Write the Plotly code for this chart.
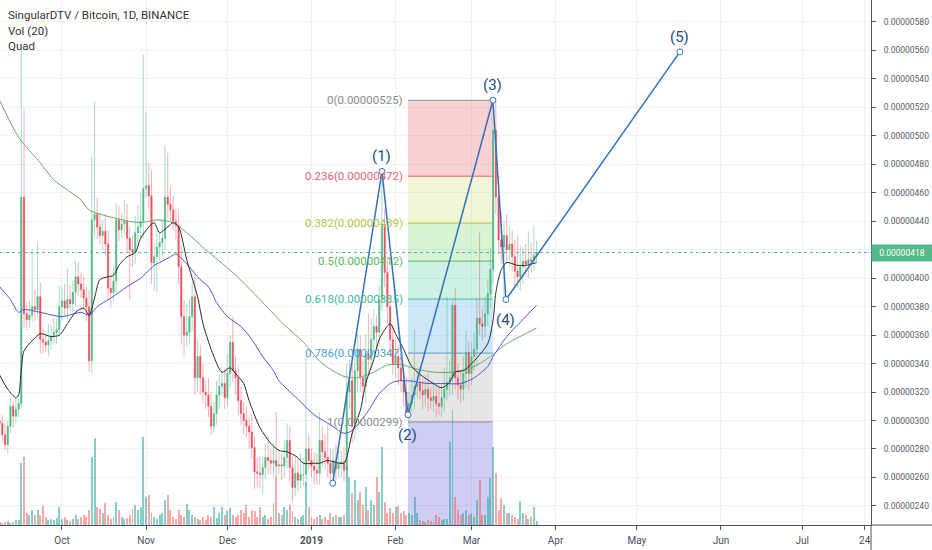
import pandas as pd
import plotly.graph_objects as go

# ---------------- data (prices in satoshi = 1e-8 BTC) ----------------
START = "2018-09-08"
SCALE = 1e-8
first_open = 300

close = [
    298, 290, 283, 296, 310, 303, 308, 312, 457, 375,
    371, 374, 380, 378, 387, 357, 355, 353, 356, 359,
    362, 364, 380, 384, 379, 385, 382, 390, 401, 396,
    392, 386, 380, 342, 441, 445, 436, 430, 433, 424,
    393, 390, 398, 441, 434, 438, 440, 428, 420, 418,
    432, 436, 440, 463, 465, 458, 411, 415, 422, 425,
    428, 457, 452, 448, 440, 437, 408, 373, 360, 362,
    373, 387, 330, 345, 330, 320, 318, 310, 296, 305,
    318, 324, 326, 316, 333, 355, 335, 330, 314, 305,
    300, 296, 292, 281, 264, 263, 262, 267, 274, 272,
    270, 272, 268, 269, 268, 274, 286, 267, 253, 263,
    258, 262, 262, 280, 272, 268, 265, 263, 286, 278,
    274, 270, 263, 272, 266, 270, 271, 265, 320, 328,
    296, 335, 350, 330, 324, 347, 343, 357, 366, 362,
    385, 437, 404, 380, 357, 340, 345, 337, 328, 320,
    306, 312, 318, 324, 326, 321, 318, 322, 316, 314,
    317, 312, 310, 316, 322, 327, 330, 381, 330, 325,
    322, 333, 348, 333, 345, 350, 372, 368, 366, 375,
    389, 406, 504, 457, 427, 422, 430, 420, 424, 415,
    405, 401, 408, 412, 410, 413, 412, 416, 418,
]
upper_wick = [
    5, 6, 8, 4, 6, 5, 8, 6, 103, 62,
    8, 10, 40, 12, 38, 10, 8, 6, 12, 8,
    10, 8, 15, 10, 12, 22, 10, 8, 12, 10,
    8, 10, 8, 12, 45, 79, 12, 10, 8, 12,
    10, 8, 10, 12, 10, 8, 15, 12, 8, 10,
    12, 15, 20, 94, 52, 16, 18, 10, 12, 8,
    12, 36, 31, 12, 10, 8, 10, 15, 12, 20,
    12, 10, 15, 12, 8, 10, 8, 12, 10, 8,
    10, 8, 12, 10, 14, 5, 18, 10, 8, 10,
    8, 10, 6, 12, 8, 10, 12, 8, 10, 15,
    8, 12, 34, 10, 8, 12, 12, 10, 8, 12,
    10, 15, 12, 65, 10, 8, 10, 12, 20, 10,
    12, 23, 10, 8, 12, 10, 8, 10, 20, 15,
    12, 10, 11, 10, 12, 14, 28, 15, 12, 8,
    10, 38, 12, 10, 8, 10, 12, 8, 10, 8,
    10, 8, 12, 40, 10, 12, 8, 10, 12, 8,
    10, 8, 12, 10, 15, 60, 12, 4, 12, 10,
    10, 12, 15, 8, 10, 12, 14, 60, 10, 12,
    10, 15, 21, 20, 15, 20, 10, 15, 12, 10,
    12, 25, 15, 10, 12, 20, 12, 21, 8,
]
lower_wick = [
    6, 5, 4, 6, 5, 8, 5, 6, 4, 10,
    8, 6, 5, 8, 6, 10, 8, 5, 8, 6,
    6, 8, 5, 10, 6, 8, 5, 6, 10, 8,
    6, 8, 10, 8, 9, 12, 8, 6, 10, 8,
    8, 10, 6, 8, 8, 6, 8, 10, 35, 10,
    8, 10, 8, 12, 6, 10, 15, 20, 25, 10,
    10, 8, 10, 8, 6, 10, 12, 20, 15, 8,
    8, 10, 12, 10, 12, 8, 10, 8, 6, 5,
    8, 10, 6, 8, 6, 10, 8, 12, 10, 8,
    10, 8, 12, 8, 12, 10, 10, 14, 8, 10,
    8, 10, 8, 6, 10, 8, 8, 10, 10, 6,
    8, 6, 8, 10, 6, 8, 10, 8, 8, 10,
    8, 10, 7, 10, 8, 6, 10, 8, 8, 12,
    12, 10, 15, 10, 8, 12, 10, 8, 10, 12,
    10, 8, 10, 12, 10, 8, 10, 12, 8, 10,
    4, 8, 6, 10, 8, 6, 10, 8, 10, 6,
    8, 10, 6, 8, 10, 8, 10, 12, 8, 10,
    10, 8, 10, 12, 8, 10, 12, 8, 10, 8,
    8, 10, 10, 12, 10, 12, 37, 10, 12, 10,
    10, 8, 10, 12, 8, 10, 8, 6, 5,
]
volume = [
    3, 2, 3, 4, 2, 3, 5, 5, 62, 68,
    12, 10, 15, 10, 15, 10, 19, 8, 5, 6,
    5, 7, 18, 6, 8, 5, 4, 6, 10, 6,
    8, 10, 8, 15, 68, 87, 18, 16, 12, 22,
    10, 6, 8, 23, 15, 8, 6, 7, 10, 16,
    20, 15, 18, 88, 28, 30, 12, 8, 6, 10,
    12, 25, 30, 15, 8, 6, 15, 10, 8, 21,
    15, 10, 8, 6, 5, 8, 5, 10, 8, 18,
    7, 12, 18, 10, 14, 17, 10, 8, 10, 15,
    12, 20, 8, 15, 14, 8, 18, 8, 10, 6,
    8, 22, 48, 12, 10, 18, 15, 20, 14, 8,
    6, 8, 10, 43, 18, 8, 6, 8, 10, 6,
    8, 5, 12, 8, 10, 8, 8, 10, 58, 48,
    32, 45, 25, 33, 20, 38, 15, 25, 20, 48,
    33, 78, 23, 12, 17, 12, 18, 19, 12, 14,
    10, 12, 10, 28, 12, 5, 4, 3, 5, 4,
    3, 10, 8, 5, 6, 6, 83, 115, 28, 15,
    10, 12, 15, 10, 12, 8, 25, 45, 10, 10,
    28, 47, 78, 52, 15, 27, 20, 12, 12, 10,
    8, 6, 24, 12, 10, 6, 8, 18, 4,
]

# moving averages (day offset from START, value)
black_ma_day = [0, 3, 6, 7, 8, 9, 12, 15, 19, 22, 25, 28, 31, 33, 35, 37, 40, 42, 44, 47, 50,
                52, 55, 57, 59, 62, 64, 66, 69, 73, 75, 79, 82, 85, 87, 90, 92, 96, 100, 103,
                106, 110, 112, 116, 118, 121, 123, 127, 128, 130, 133, 135, 138, 140, 144, 146,
                149, 152, 156, 160, 163, 166, 168, 171, 173, 176, 180, 182, 183, 185, 187, 191,
                194, 198]
black_ma_val = [332, 322, 316, 318, 336, 349, 356, 361, 359, 360, 368, 376, 379, 374, 386, 399,
                401, 402, 409, 415, 418, 428, 436, 439, 432, 436, 439, 436, 413, 387, 368, 345,
                334, 337, 333, 326, 314, 295, 284, 279, 278, 274, 270, 270, 270, 272, 271, 270,
                274, 291, 307, 326, 343, 357, 368, 361, 350, 338, 331, 326, 323, 327, 334, 335,
                338, 344, 354, 371, 390, 406, 411, 409, 409, 411]
blue_ma_day = [0, 4, 7, 9, 15, 23, 30, 33, 36, 41, 47, 52, 57, 59, 63, 65, 69, 74, 77, 80, 84,
               89, 93, 97, 101, 103, 110, 116, 122, 127, 130, 136, 140, 145, 150, 158, 164, 170,
               175, 180, 182, 187, 192, 198]
blue_ma_val = [394, 385, 376, 378, 376, 373, 376, 374, 380, 386, 394, 400, 409, 411, 415, 417,
               410, 399, 394, 383, 373, 366, 357, 345, 335, 328, 315, 304, 297, 291, 293, 307,
               319, 327, 328, 326, 326, 326, 330, 338, 345, 359, 369, 381]
green_ma_day = [0, 7, 15, 20, 25, 30, 33, 43, 52, 58, 64, 69, 76, 86, 96, 104, 112, 119, 127,
                132, 138, 143, 149, 152, 160, 167, 175, 181, 187, 194, 198]
green_ma_val = [525, 499, 481, 469, 462, 455, 448, 442, 439, 441, 439, 432, 420, 404, 385, 369,
                355, 340, 331, 330, 334, 339, 339, 337, 334, 334, 338, 345, 354, 361, 365]

# Elliott wave points
wave_time = ["2019-01-08 20:00", "2019-01-27 00:00", "2019-02-05 14:00",
             "2019-03-08 22:00", "2019-03-13 17:00", "2019-05-16 21:00"]
wave_price = [256, 475, 304, 525, 385, 559]
wave_label = ["", "(1)", "(2)", "(3)", "(4)", "(5)"]
wave_label_above = [True, True, False, True, False, True]

# Fibonacci retracement
fib_time = ["2019-02-05 14:00", "2019-03-08 22:00"]
fib_low, fib_high = 299, 525
fib_levels = [0, 0.236, 0.382, 0.5, 0.618, 0.786, 1, 1.618]
fib_line_colors = ["#8c8c8c", "#e5626b", "#b3c43c", "#5cb85c", "#3fba9c", "#4aa0d4", "#8c8c8c"]
fib_fill_colors = ["rgba(236,110,120,0.32)", "rgba(214,226,120,0.30)", "rgba(120,214,110,0.30)",
                   "rgba(90,210,160,0.30)", "rgba(100,180,235,0.32)", "rgba(160,160,160,0.26)",
                   "rgba(120,120,225,0.36)"]

last_price = 418

x_tick_time = ["2018-10-01", "2018-11-01", "2018-12-01", "2019-01-01", "2019-02-01",
               "2019-03-01", "2019-04-01", "2019-05-01", "2019-06-01", "2019-07-01", "2019-07-24"]
x_tick_text = ["Oct", "Nov", "Dec", "<b>2019</b>", "Feb", "Mar", "Apr", "May", "Jun", "Jul", "24"]
y_tick_vals = list(range(240, 600, 20))

# ---------------- derived ----------------
start = pd.Timestamp(START)
dates = [start + pd.Timedelta(days=i) for i in range(len(close))]
opens = [first_open] + close[:-1]
highs = [max(o, c) + u for o, c, u in zip(opens, close, upper_wick)]
lows = [min(o, c) - d for o, c, d in zip(opens, close, lower_wick)]
s = lambda arr: [v * SCALE for v in arr]

UP, DN = "#53b987", "#eb4d5c"
UP_W, DN_W = "rgba(83,185,135,0.5)", "rgba(235,77,92,0.45)"

fig = go.Figure()

vol_colors = ["rgba(38,166,154,0.55)" if c >= o else "rgba(239,83,80,0.5)"
              for o, c in zip(opens, close)]
fig.add_trace(go.Bar(x=dates, y=volume, yaxis="y2", marker_color=vol_colors,
                     marker_line_width=0, width=0.72 * 86400000, hoverinfo="skip",
                     showlegend=False))

fig.add_trace(go.Candlestick(
    x=dates, open=s(opens), high=s(highs), low=s(lows), close=s(close),
    increasing=dict(line=dict(color=UP_W, width=1), fillcolor=UP_W),
    decreasing=dict(line=dict(color=DN_W, width=1), fillcolor=DN_W),
    hoverinfo="skip", showlegend=False))
fig.add_trace(go.Candlestick(
    x=dates, open=s(opens), close=s(close),
    high=s([max(o, c) for o, c in zip(opens, close)]),
    low=s([min(o, c) for o, c in zip(opens, close)]),
    increasing=dict(line=dict(color=UP, width=0), fillcolor=UP),
    decreasing=dict(line=dict(color=DN, width=0), fillcolor=DN),
    hoverinfo="skip", showlegend=False))

for days, vals, col in [(green_ma_day, green_ma_val, "#6aa86a"),
                        (blue_ma_day, blue_ma_val, "#5050e6"),
                        (black_ma_day, black_ma_val, "#2b2b2b")]:
    fig.add_trace(go.Scatter(x=[start + pd.Timedelta(days=d) for d in days], y=s(vals),
                             mode="lines", line=dict(color=col, width=1, shape="spline",
                                                     smoothing=0.8),
                             hoverinfo="skip", showlegend=False))

fig.add_trace(go.Scatter(x=pd.to_datetime(wave_time), y=s(wave_price), mode="lines+markers",
                         line=dict(color="#2f72bd", width=1.5),
                         marker=dict(symbol="circle", size=6, color="white",
                                     line=dict(color="#2f72bd", width=1)),
                         hoverinfo="skip", showlegend=False))

shapes = []
rng = fib_high - fib_low
lvl_price = [fib_high - l * rng for l in fib_levels]
for k in range(len(fib_levels) - 1):
    shapes.append(dict(type="rect", xref="x", yref="y", x0=fib_time[0], x1=fib_time[1],
                       y0=lvl_price[k] * SCALE, y1=lvl_price[k + 1] * SCALE,
                       fillcolor=fib_fill_colors[k], line_width=0, layer="between"))
for k in range(len(fib_levels) - 1):
    shapes.append(dict(type="line", xref="x", yref="y", x0=fib_time[0], x1=fib_time[1],
                       y0=lvl_price[k] * SCALE, y1=lvl_price[k] * SCALE,
                       line=dict(color=fib_line_colors[k], width=1), layer="between"))
shapes.append(dict(type="line", xref="paper", yref="y", x0=0, x1=1,
                   y0=last_price * SCALE, y1=last_price * SCALE,
                   line=dict(color=UP, width=1, dash="dot")))
shapes.append(dict(type="line", xref="paper", yref="paper", x0=1, x1=1.08, y0=0, y1=0,
                   line=dict(color="#50535e", width=1)))
shapes.append(dict(type="line", xref="paper", yref="paper", x0=1, x1=1, y0=0, y1=-0.06,
                   line=dict(color="#50535e", width=1)))

ann = []
for k in range(len(fib_levels) - 1):
    lv = fib_levels[k]
    txt = f"{lv:g}({lvl_price[k] * SCALE:.8f})"
    ann.append(dict(x=fib_time[0], y=lvl_price[k] * SCALE, xref="x", yref="y", text=txt,
                    showarrow=False, xanchor="right", yanchor="middle", xshift=-3,
                    font=dict(family="Roboto", size=11.5, color=fib_line_colors[k])))
for t, p, lab, above in zip(wave_time, wave_price, wave_label, wave_label_above):
    if lab:
        ann.append(dict(x=t, y=p * SCALE, xref="x", yref="y", text=lab, showarrow=False,
                        yshift=15 if above else -20,
                        font=dict(family="Roboto", size=15, color="#24507f")))
for txt, ypx in [("SingularDTV / Bitcoin, 1D, BINANCE", 15), ("Vol (20)", 31), ("Quad", 46)]:
    ann.append(dict(x=0.007, y=1 - ypx / 525, xref="paper", yref="paper", text=txt,
                    showarrow=False, xanchor="left", yanchor="middle",
                    font=dict(family="Roboto", size=11.5, color="#333333")))
ann.append(dict(x=1, y=last_price * SCALE, xref="paper", yref="y", xanchor="left",
                yanchor="middle", text=f"{last_price * SCALE:.8f}", showarrow=False,
                bgcolor=UP, borderpad=3, width=54,
                font=dict(family="Roboto", size=8.5, color="white")))

fig.update_layout(
    width=932, height=550, margin=dict(l=0, r=61, t=0, b=25),
    paper_bgcolor="white", plot_bgcolor="white", bargap=0,
    shapes=shapes, annotations=ann,
    xaxis=dict(type="date", range=["2018-09-08 03:22", "2019-07-26 08:00"],
               rangeslider=dict(visible=False), tickvals=x_tick_time, ticktext=x_tick_text,
               showgrid=True, gridcolor="#eef0f4", gridwidth=1, zeroline=False,
               showline=True, linecolor="#50535e", linewidth=1,
               ticks="outside", ticklen=4, tickcolor="#50535e", ticklabelstandoff=2,
               tickfont=dict(family="Roboto", size=10, color="#4a4f5a")),
    yaxis=dict(side="right", range=[226.6 * SCALE, 595.45 * SCALE],
               tickvals=[v * SCALE for v in y_tick_vals],
               ticktext=["" if v == 420 else f"{v * SCALE:.8f}" for v in y_tick_vals],
               showgrid=True, gridcolor="#eef0f4", zeroline=False,
               showline=True, linecolor="#50535e", linewidth=1,
               ticks="outside", ticklen=4, tickcolor="#50535e", ticklabelstandoff=6,
               tickfont=dict(family="Roboto", size=8.5, color="#555b66")),
    yaxis2=dict(overlaying="y", range=[0, 525], visible=False, fixedrange=True),
)

fig.write_html("out.html", config={"displayModeBar": False, "staticPlot": True},
               post_script="document.body.style.margin='0';document.body.style.overflow='hidden';")
